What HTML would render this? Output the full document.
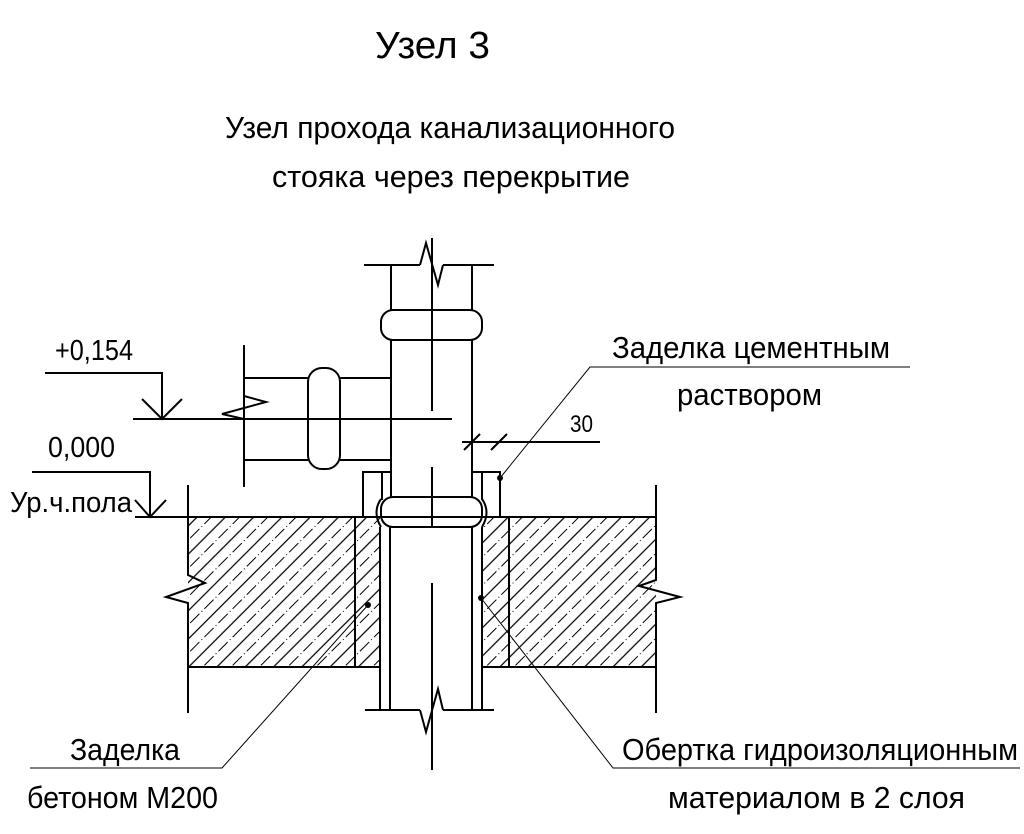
<!DOCTYPE html>
<html><head><meta charset="utf-8"><style>
html,body{margin:0;padding:0;background:#fff;}
svg{display:block;}
text{font-family:"Liberation Sans","DejaVu Sans",sans-serif;fill:#000;}
</style></head><body>
<svg width="1024" height="834" viewBox="0 0 1024 834">
<defs>
<pattern id="hatch" patternUnits="userSpaceOnUse" width="20" height="20" patternTransform="rotate(-45)">
<line x1="0" y1="5" x2="20" y2="5" stroke="#000" stroke-width="1.3"/>
<line x1="0" y1="15" x2="20" y2="15" stroke="#000" stroke-width="1" stroke-dasharray="7 3 1 3"/>
</pattern>
</defs>
<text x="375" y="58" font-size="38" textLength="115" lengthAdjust="spacingAndGlyphs">Узел 3</text>
<text x="225" y="138" font-size="31" textLength="450" lengthAdjust="spacingAndGlyphs">Узел прохода канализационного</text>
<text x="272" y="187" font-size="31" textLength="358" lengthAdjust="spacingAndGlyphs">стояка через перекрытие</text>

<g stroke="#000" stroke-width="2" fill="none">
<rect x="188" y="517" width="167" height="150" fill="url(#hatch)" stroke="none"/>
<rect x="509" y="517" width="147" height="150" fill="url(#hatch)" stroke="none"/>
<rect x="355" y="517" width="25" height="150" fill="url(#hatch)" stroke="none"/>
<rect x="482" y="517" width="27" height="150" fill="url(#hatch)" stroke="none"/>
<line x1="135" y1="517" x2="656" y2="517"/>
<line x1="188" y1="667" x2="380" y2="667"/>
<line x1="482" y1="667" x2="656" y2="667"/>
<polyline points="188,485 188,575 205,583 166,597 188,603 188,713"/>
<polyline points="656,485 656,580 639,586 680,597 656,603 656,713"/>
<line x1="355" y1="517" x2="355" y2="667"/>
<line x1="509" y1="517" x2="509" y2="667"/>
</g>

<g stroke="#000" stroke-width="2" fill="none">
<line x1="364" y1="265" x2="420" y2="265"/>
<line x1="443" y1="265" x2="494" y2="265"/>
<polyline points="420,265 426,243 438,285 443,265"/>
<line x1="391" y1="265" x2="391" y2="310"/>
<line x1="472" y1="265" x2="472" y2="310"/>
<rect x="381" y="310" width="101" height="30" rx="12"/>
<line x1="391" y1="340" x2="391" y2="497"/>
<line x1="472" y1="340" x2="472" y2="497"/>
<rect x="381" y="497" width="101" height="30" rx="12"/>
<path d="M381,499 Q372,512 381,527"/>
<path d="M482,499 Q491,512 482,527"/>
<polyline points="363,517 363,472 391,472"/>
<line x1="382" y1="472" x2="382" y2="500"/>
<polyline points="500,517 500,472 472,472"/>
<line x1="482" y1="472" x2="482" y2="500"/>
<line x1="380" y1="527" x2="380" y2="710"/>
<line x1="390" y1="527" x2="390" y2="710"/>
<line x1="472" y1="527" x2="472" y2="710"/>
<line x1="482" y1="527" x2="482" y2="710"/>
<line x1="365" y1="710" x2="420" y2="710"/>
<line x1="443" y1="710" x2="494" y2="710"/>
<polyline points="420,710 426,732 438,689 443,710"/>
<line x1="432" y1="238" x2="432" y2="411"/>
<line x1="432" y1="467" x2="432" y2="527"/>
<line x1="432" y1="583" x2="432" y2="770"/>
</g>

<g stroke="#000" stroke-width="2" fill="none">
<line x1="244" y1="345" x2="244" y2="487"/>
<line x1="244" y1="378" x2="308" y2="378"/>
<line x1="340" y1="378" x2="391" y2="378"/>
<line x1="244" y1="460" x2="308" y2="460"/>
<line x1="340" y1="460" x2="391" y2="460"/>
<rect x="308" y="368" width="32" height="101" rx="14"/>
<polyline points="244,396 266,402 222,414 244,419"/>
<line x1="133" y1="419" x2="452" y2="419"/>
</g>

<g stroke="#000" stroke-width="2" fill="none">
<polyline points="45,373 162,373 162,419"/>
<polyline points="142,399 162,419 182,399"/>
<polyline points="32,472 150,472 150,517"/>
<polyline points="135,500 150,517 166,500"/>
</g>
<text x="55" y="360" font-size="29" textLength="78" lengthAdjust="spacingAndGlyphs">+0,154</text>
<text x="48" y="457" font-size="29" textLength="67" lengthAdjust="spacingAndGlyphs">0,000</text>
<text x="10" y="512" font-size="29" textLength="122" lengthAdjust="spacingAndGlyphs">Ур.ч.пола</text>

<g stroke="#000" stroke-width="2" fill="none">
<line x1="462" y1="442" x2="600" y2="442"/>
<line x1="464" y1="450" x2="480" y2="434"/>
<line x1="491" y1="450" x2="507" y2="434"/>
</g>
<text x="570" y="432" font-size="24" textLength="23" lengthAdjust="spacingAndGlyphs">30</text>

<g stroke="#000" stroke-width="1" fill="none">
<polyline points="500,478 590,367 910,367"/>
<polyline points="368,605 222,768 30,768"/>
<polyline points="481,598 613,768 1020,768"/>
</g>
<g fill="#000">
<circle cx="500" cy="478" r="3"/><circle cx="368" cy="605" r="3"/><circle cx="481" cy="598" r="3"/>
</g>
<text x="612" y="358" font-size="31" textLength="278" lengthAdjust="spacingAndGlyphs">Заделка цементным</text>
<text x="677" y="405" font-size="31" textLength="145" lengthAdjust="spacingAndGlyphs">раствором</text>
<text x="70" y="760" font-size="31" textLength="110" lengthAdjust="spacingAndGlyphs">Заделка</text>
<text x="27" y="808" font-size="31" textLength="191" lengthAdjust="spacingAndGlyphs">бетоном М200</text>
<text x="622" y="760" font-size="31" textLength="396" lengthAdjust="spacingAndGlyphs">Обертка гидроизоляционным</text>
<text x="668" y="808" font-size="31" textLength="297" lengthAdjust="spacingAndGlyphs">материалом в 2 слоя</text>
</svg>
</body></html>
